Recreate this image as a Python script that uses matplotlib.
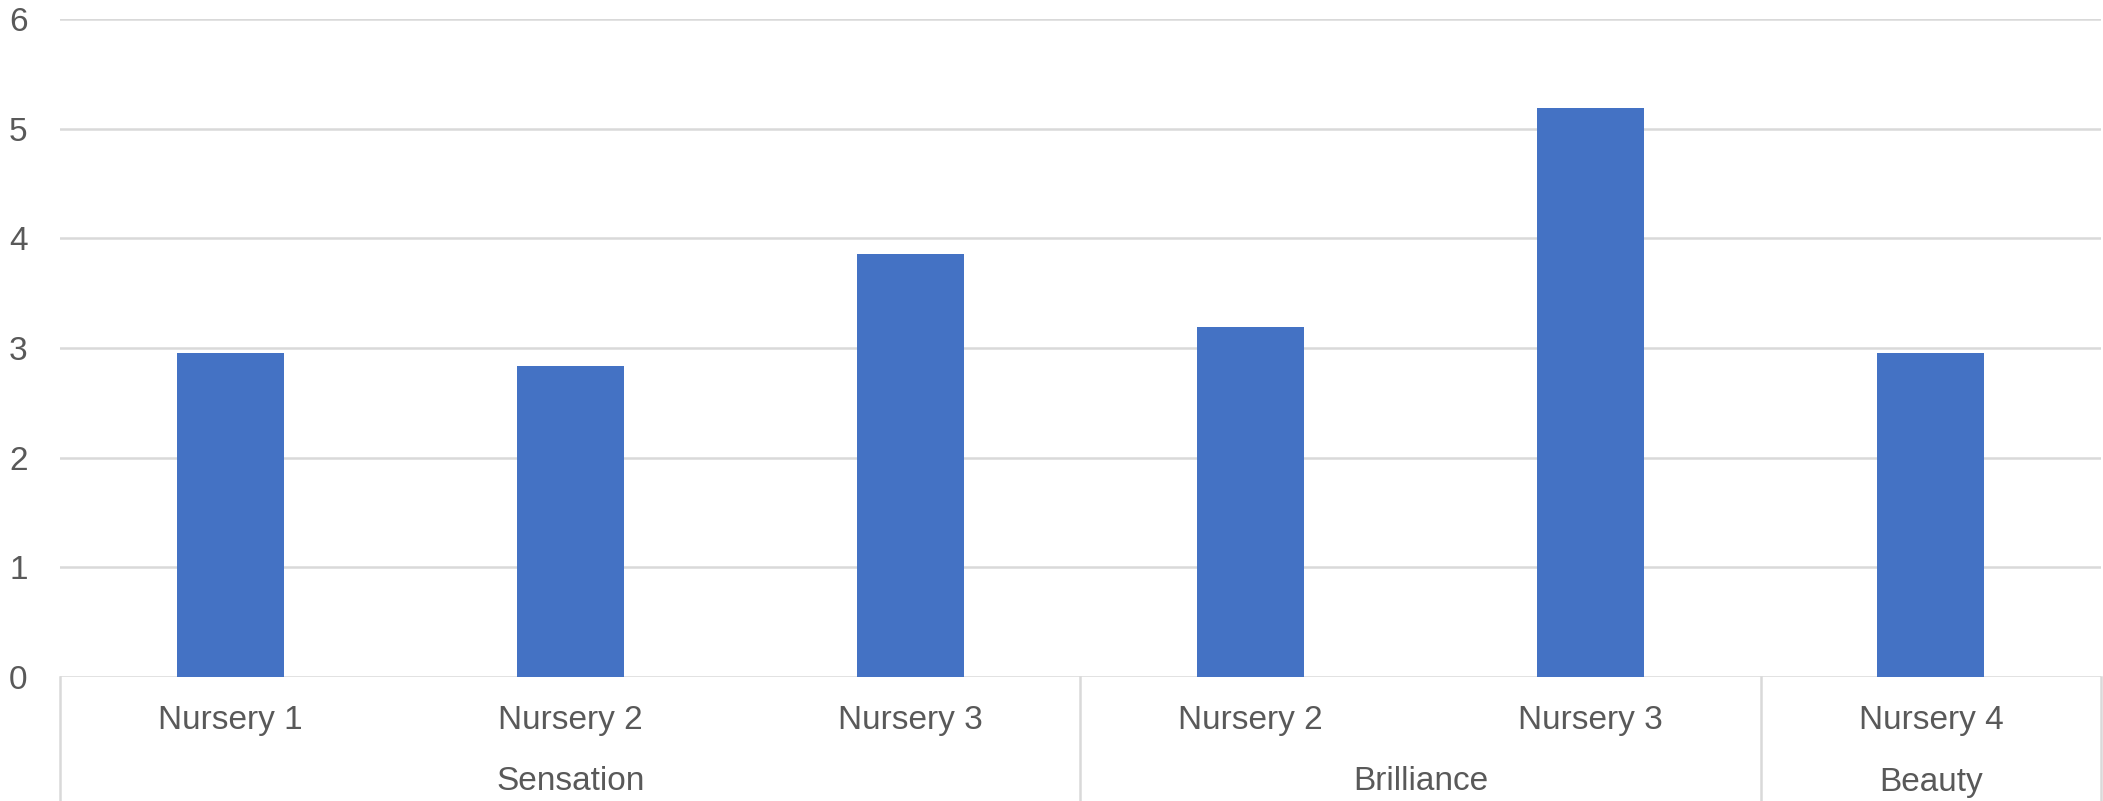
import numpy as np
import matplotlib.pyplot as plt
import matplotlib.transforms as mtransforms

# data
nurseries = ["Nursery 1", "Nursery 2", "Nursery 3", "Nursery 2", "Nursery 3", "Nursery 4"]
varieties = ["Sensation", "Brilliance", "Beauty"]
group_sizes = [3, 2, 1]
values = [2.95, 2.84, 3.86, 3.19, 5.19, 2.95]
y_ticks = [0, 1, 2, 3, 4, 5, 6]

plt.rcParams['font.family'] = ['Liberation Sans', 'DejaVu Sans']
text_color = '#595959'
grid_color = '#d9d9d9'
fs = 24

fig = plt.figure(figsize=(21.03, 8.01), dpi=100)
ax = fig.add_axes([60 / 2103, (801 - 677) / 801, (2101 - 60) / 2103, (677 - 19) / 801])

x = np.arange(len(values))
ax.bar(x, values, width=0.315, color='#4472c4', zorder=3)

ax.set_xlim(-0.5, len(values) - 0.5)
ax.set_ylim(0, 6)
ax.set_yticks(y_ticks)
ax.set_yticklabels([str(t) for t in y_ticks], fontsize=fs, color=text_color)
ax.tick_params(axis='y', length=0, pad=30)
for lbl in ax.get_yticklabels():
    lbl.set_horizontalalignment('center')
ax.set_xticks([])
ax.yaxis.grid(True, color=grid_color, linewidth=1.8, zorder=0)
for s in ax.spines.values():
    s.set_visible(False)

# category axis labels below the plot
trans = mtransforms.blended_transform_factory(ax.transData, ax.transAxes)
ax_h = 677 - 19
for i, name in enumerate(nurseries):
    ax.text(i, -(720 - 677) / ax_h, name, transform=trans, ha='center', va='center',
            fontsize=fs, color=text_color)

edges = np.concatenate([[0], np.cumsum(group_sizes)]) - 0.5
for k, name in enumerate(varieties):
    mid = (edges[k] + edges[k + 1]) / 2
    ax.text(mid, -(782 - 677) / ax_h, name, transform=trans, ha='center', va='center',
            fontsize=fs, color=text_color)

for e in edges:
    ax.plot([e, e], [0, -(801 - 677) / ax_h - 0.01], transform=trans, color=grid_color,
            linewidth=1.8, clip_on=False, zorder=1)

fig.savefig('out.png', dpi=100)
